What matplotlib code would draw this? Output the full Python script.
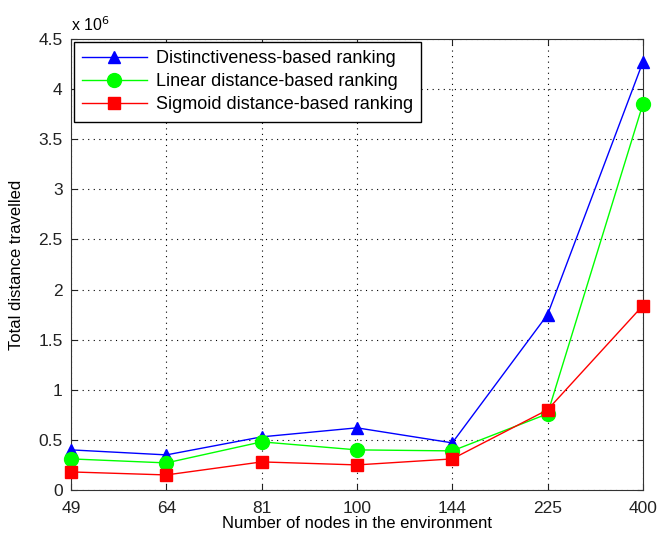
import matplotlib.pyplot as plt
import numpy as np
from matplotlib.ticker import FuncFormatter

plt.rcParams['font.family'] = ['Liberation Sans', 'DejaVu Sans']

nodes = ['49', '64', '81', '100', '144', '225', '400']
distinct = [0.40, 0.35, 0.53, 0.62, 0.47, 1.75, 4.27]
linear = [0.31, 0.27, 0.48, 0.40, 0.39, 0.76, 3.85]
sigmoid = [0.18, 0.15, 0.28, 0.25, 0.31, 0.80, 1.84]
labels = ['Distinctiveness-based ranking',
          'Linear distance-based ranking',
          'Sigmoid distance-based ranking']

fig = plt.figure(figsize=(6.58, 5.42), dpi=100)
ax = fig.add_axes([0.108, 0.096, 0.869, 0.832])
x = np.arange(len(nodes))

ax.plot(x, distinct, '-^', color='blue', lw=1, ms=9, label=labels[0], clip_on=False, zorder=3)
ax.plot(x, linear, '-o', color='#00ff00', lw=1, ms=10, label=labels[1], clip_on=False, zorder=3)
ax.plot(x, sigmoid, '-s', color='red', lw=1, ms=8, label=labels[2], clip_on=False, zorder=3)

ax.set_xlim(0, len(nodes) - 1)
ax.set_ylim(0, 4.5)
ax.set_xticks(x)
ax.set_xticklabels(nodes)
ax.set_yticks(np.arange(0, 4.51, 0.5))
ax.yaxis.set_major_formatter(FuncFormatter(lambda v, p: '%g' % v))
ax.tick_params(direction='in', labelsize=12.5, top=True, right=True, colors='#222222', length=4)
ax.tick_params(axis='x', pad=8)
ax.tick_params(axis='y', pad=6)
ax.grid(True, linestyle=(0, (1, 4)), color='black', lw=0.8)
for s in ax.spines.values():
    s.set_color('#333333')

ax.text(0, 1.012, r'x 10$^6$', transform=ax.transAxes, fontsize=11.5, va='bottom', ha='left')
ax.set_xlabel('Number of nodes in the environment', fontsize=12, labelpad=0)
ax.set_ylabel('Total distance travelled', fontsize=12, labelpad=10)

leg = ax.legend(loc='upper left', fontsize=13, fancybox=False, edgecolor='black',
                framealpha=1, borderaxespad=0.15, handlelength=3.6, labelspacing=0.35,
                borderpad=0.45, handletextpad=0.5)
leg.get_frame().set_linewidth(1)
leg.set_zorder(5)

fig.savefig('out.png', dpi=100)
